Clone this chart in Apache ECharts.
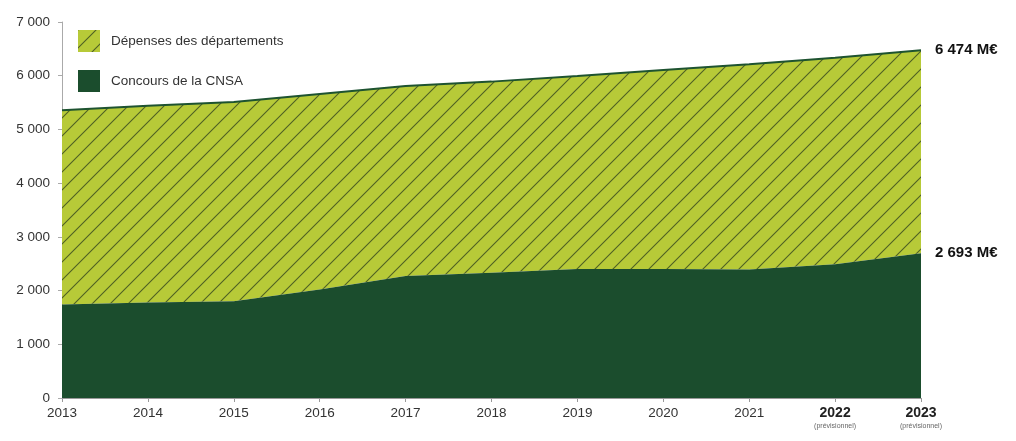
<!DOCTYPE html>
<html>
<head>
<meta charset="utf-8">
<script src="https://cdn.jsdelivr.net/npm/echarts@6/dist/echarts.min.js"></script>
<style>
  html, body { margin: 0; padding: 0; background: #fff; }
  #chart { width: 1016px; height: 441px; }
</style>
</head>
<body>
<div id="chart"></div>
<script>
const years = ['2013', '2014', '2015', '2016', '2017', '2018', '2019', '2020', '2021', '2022', '2023']
const forecastYears = ['2022', '2023']
const cnsa = [1740, 1780, 1800, 2020, 2270, 2330, 2400, 2400, 2390, 2490, 2693]
const departements = [3615, 3660, 3710, 3640, 3540, 3560, 3595, 3705, 3825, 3845, 3781]
const yTicks = [0, 1000, 2000, 3000, 4000, 5000, 6000, 7000]

const font = '"Liberation Sans", Arial, sans-serif'

const formatNumber = n => String(n).replace(/\B(?=(\d{3})+(?!\d))/g, ' ')

// hatch pattern for the departements area
const makeHatch = () => {
    const size = 18
    const c = document.createElement('canvas')
    c.width = size
    c.height = size
    const ctx = c.getContext('2d')
    ctx.fillStyle = '#b7ca38'
    ctx.fillRect(0, 0, size, size)
    ctx.strokeStyle = '#4f6024'
    ctx.lineWidth = 1.1
    ctx.beginPath()
    ctx.moveTo(-2, size + 2); ctx.lineTo(size + 2, -2)
    ctx.moveTo(-2, 2); ctx.lineTo(2, -2)
    ctx.moveTo(size - 2, size + 2); ctx.lineTo(size + 2, size - 2)
    ctx.stroke()
    return { image: c, repeat: 'repeat' }
}
const hatch = makeHatch()

const chart = echarts.init(document.getElementById('chart'), null, { renderer: 'canvas' })

chart.setOption({
    animation: false,
    textStyle: { fontFamily: font },
    grid: { left: 62, right: 95, top: 22, bottom: 43 },
    legend: {
        orient: 'vertical',
        left: 73,
        top: 25,
        itemWidth: 22,
        itemHeight: 22,
        itemGap: 18,
        icon: 'rect',
        textStyle: { fontSize: 13.5, color: '#333', fontFamily: font, padding: [0, 0, 0, 6] },
        data: ['Dépenses des départements', 'Concours de la CNSA']
    },
    xAxis: {
        type: 'category',
        data: years,
        boundaryGap: false,
        axisLine: { lineStyle: { color: '#999', width: 1 } },
        axisTick: { alignWithLabel: true, length: 4, lineStyle: { color: '#999' } },
        axisLabel: {
            margin: 8,
            interval: 0,
            fontSize: 13.5,
            color: '#333',
            formatter: v => forecastYears.includes(v) ? '{b|' + v + '}\n{s|(prévisionnel)}' : v,
            rich: {
                b: { fontSize: 14, fontWeight: 'bold', color: '#222', fontFamily: font, lineHeight: 15 },
                s: { fontSize: 7, color: '#666', fontFamily: font, lineHeight: 10 }
            }
        }
    },
    yAxis: {
        type: 'value',
        min: 0,
        max: 7000,
        interval: 1000,
        splitLine: { show: false },
        axisLine: { show: true, lineStyle: { color: '#aaa', width: 1 } },
        axisTick: { show: true, length: 4, lineStyle: { color: '#aaa' } },
        axisLabel: {
            fontSize: 13.5,
            color: '#333',
            margin: 12,
            formatter: v => yTicks.includes(v) ? formatNumber(v) : ''
        }
    },
    series: [
        {
            name: 'Concours de la CNSA',
            type: 'line',
            stack: 'total',
            data: cnsa,
            symbol: 'none',
            lineStyle: { width: 0, color: '#1b4d2d' },
            itemStyle: { color: '#1b4d2d' },
            areaStyle: { color: '#1b4d2d', opacity: 1 },
            endLabel: {
                show: true,
                distance: 14,
                fontSize: 15,
                fontWeight: 'bold',
                color: '#111',
                formatter: p => formatNumber(p.value) + ' M€'
            },
            z: 2
        },
        {
            name: 'Dépenses des départements',
            type: 'line',
            stack: 'total',
            data: departements,
            symbol: 'none',
            lineStyle: { width: 2, color: '#1e5330' },
            itemStyle: { color: hatch },
            areaStyle: { color: hatch, opacity: 1 },
            endLabel: {
                show: true,
                distance: 14,
                fontSize: 15,
                fontWeight: 'bold',
                color: '#111',
                formatter: p => formatNumber(cnsa[p.dataIndex] + departements[p.dataIndex]) + ' M€'
            },
            z: 1
        }
    ]
})
</script>
</body>
</html>
